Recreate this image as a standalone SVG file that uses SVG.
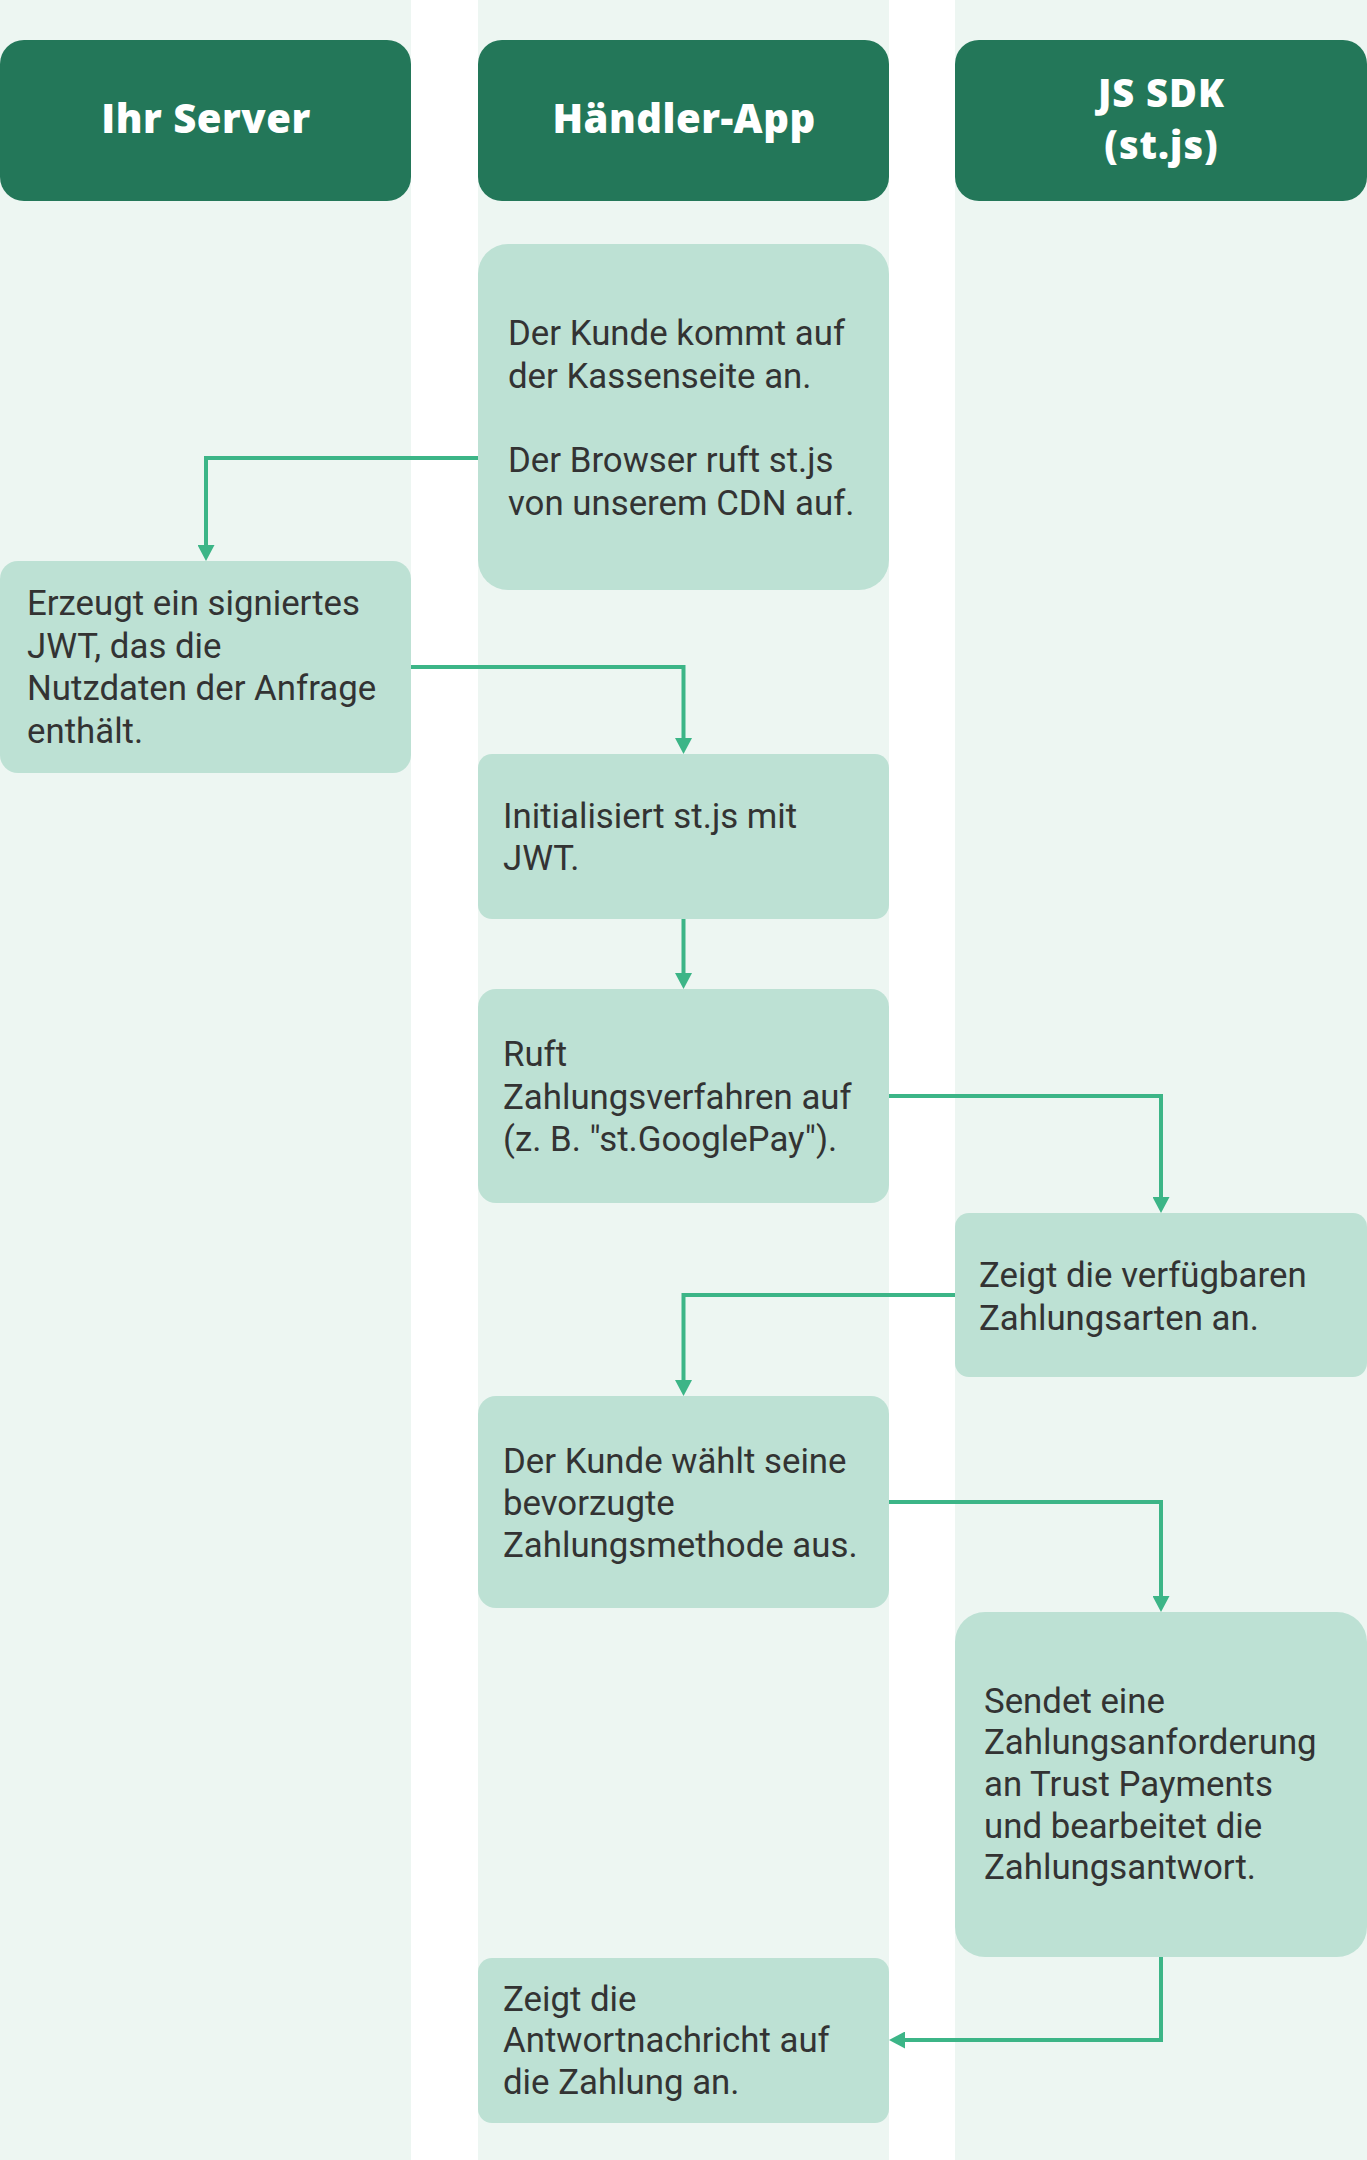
<svg xmlns="http://www.w3.org/2000/svg" width="1367" height="2160" viewBox="0 0 1367 2160">
<style>
.lane{fill:#edf6f2}
.hdr{fill:#237759}
.hdrt{font-family:"Open Sans","Liberation Sans",sans-serif;font-weight:800;font-size:40px;letter-spacing:0.5px;fill:#ffffff;text-anchor:middle}
.hdrs{font-size:38px;letter-spacing:1px}
.node{fill:#bde1d4}
.t{font-family:Roboto,"Liberation Sans",sans-serif;font-size:34.8px;fill:#333333}
.c{fill:none;stroke:#3cb587;stroke-width:4}
</style>
<defs>
<marker id="ah" markerUnits="userSpaceOnUse" markerWidth="17" markerHeight="17" refX="10" refY="8.5" orient="auto">
<path d="M0,0 L16,8.5 L0,17 z" fill="#3cb587"/>
</marker>
</defs>
<rect width="1367" height="2160" fill="#ffffff"/>
<g id="lanes">
<rect class="lane" x="0" y="0" width="411" height="2160"/>
<rect class="lane" x="478" y="0" width="411" height="2160"/>
<rect class="lane" x="955" y="0" width="412" height="2160"/>
</g>
<g id="header-server">
<rect class="hdr" x="0" y="40" width="411" height="161" rx="24"/>
<text class="hdrt" x="206" y="133">Ihr Server</text>
</g>
<g id="header-app">
<rect class="hdr" x="478" y="40" width="411" height="161" rx="24"/>
<text class="hdrt" x="684" y="133">Händler-App</text>
</g>
<g id="header-sdk">
<rect class="hdr" x="955" y="40" width="412" height="161" rx="24"/>
<text class="hdrt hdrs" x="1161.5" y="107">JS SDK</text>
<text class="hdrt hdrs" x="1161.5" y="159">(st.js)</text>
</g>
<g id="connectors">
<path class="c" d="M478,458 H206 V555" marker-end="url(#ah)"/>
<path class="c" d="M411,667 H683.5 V748" marker-end="url(#ah)"/>
<path class="c" d="M683.5,919 V983" marker-end="url(#ah)"/>
<path class="c" d="M889,1096 H1161 V1207" marker-end="url(#ah)"/>
<path class="c" d="M955,1295 H683.5 V1390" marker-end="url(#ah)"/>
<path class="c" d="M889,1502 H1161 V1606" marker-end="url(#ah)"/>
<path class="c" d="M1161,1957 V2040 H895" marker-end="url(#ah)"/>
</g>
<g id="n1">
<rect class="node" x="478" y="244" width="411" height="346" rx="30"/>
<text class="t"><tspan x="508" y="345">Der Kunde kommt auf</tspan><tspan x="508" y="387.5">der Kassenseite an.</tspan><tspan x="508" y="472">Der Browser ruft st.js</tspan><tspan x="508" y="514.5">von unserem CDN auf.</tspan></text>
</g>
<g id="n2">
<rect class="node" x="0" y="561" width="411" height="212" rx="18"/>
<text class="t"><tspan x="27" y="615">Erzeugt ein signiertes</tspan><tspan x="27" y="657.5">JWT, das die</tspan><tspan x="27" y="700">Nutzdaten der Anfrage</tspan><tspan x="27" y="742.5">enthält.</tspan></text>
</g>
<g id="n3">
<rect class="node" x="478" y="754" width="411" height="165" rx="14"/>
<text class="t"><tspan x="503" y="828">Initialisiert st.js mit</tspan><tspan x="503" y="870">JWT.</tspan></text>
</g>
<g id="n4">
<rect class="node" x="478" y="989" width="411" height="214" rx="18"/>
<text class="t"><tspan x="503" y="1066">Ruft</tspan><tspan x="503" y="1108.5">Zahlungsverfahren auf</tspan><tspan x="503" y="1151">(z. B. "st.GooglePay").</tspan></text>
</g>
<g id="n5">
<rect class="node" x="955" y="1213" width="412" height="164" rx="14"/>
<text class="t"><tspan x="979" y="1287">Zeigt die verfügbaren</tspan><tspan x="979" y="1329.5">Zahlungsarten an.</tspan></text>
</g>
<g id="n6">
<rect class="node" x="478" y="1396" width="411" height="212" rx="18"/>
<text class="t"><tspan x="503" y="1473">Der Kunde wählt seine</tspan><tspan x="503" y="1515">bevorzugte</tspan><tspan x="503" y="1557">Zahlungsmethode aus.</tspan></text>
</g>
<g id="n7">
<rect class="node" x="955" y="1612" width="412" height="345" rx="30"/>
<text class="t"><tspan x="984" y="1712.5">Sendet eine</tspan><tspan x="984" y="1754">Zahlungsanforderung</tspan><tspan x="984" y="1796">an Trust Payments</tspan><tspan x="984" y="1837.5">und bearbeitet die</tspan><tspan x="984" y="1879">Zahlungsantwort.</tspan></text>
</g>
<g id="n8">
<rect class="node" x="478" y="1958" width="411" height="165" rx="14"/>
<text class="t"><tspan x="503" y="2010.5">Zeigt die</tspan><tspan x="503" y="2052">Antwortnachricht auf</tspan><tspan x="503" y="2094">die Zahlung an.</tspan></text>
</g>
</svg>
